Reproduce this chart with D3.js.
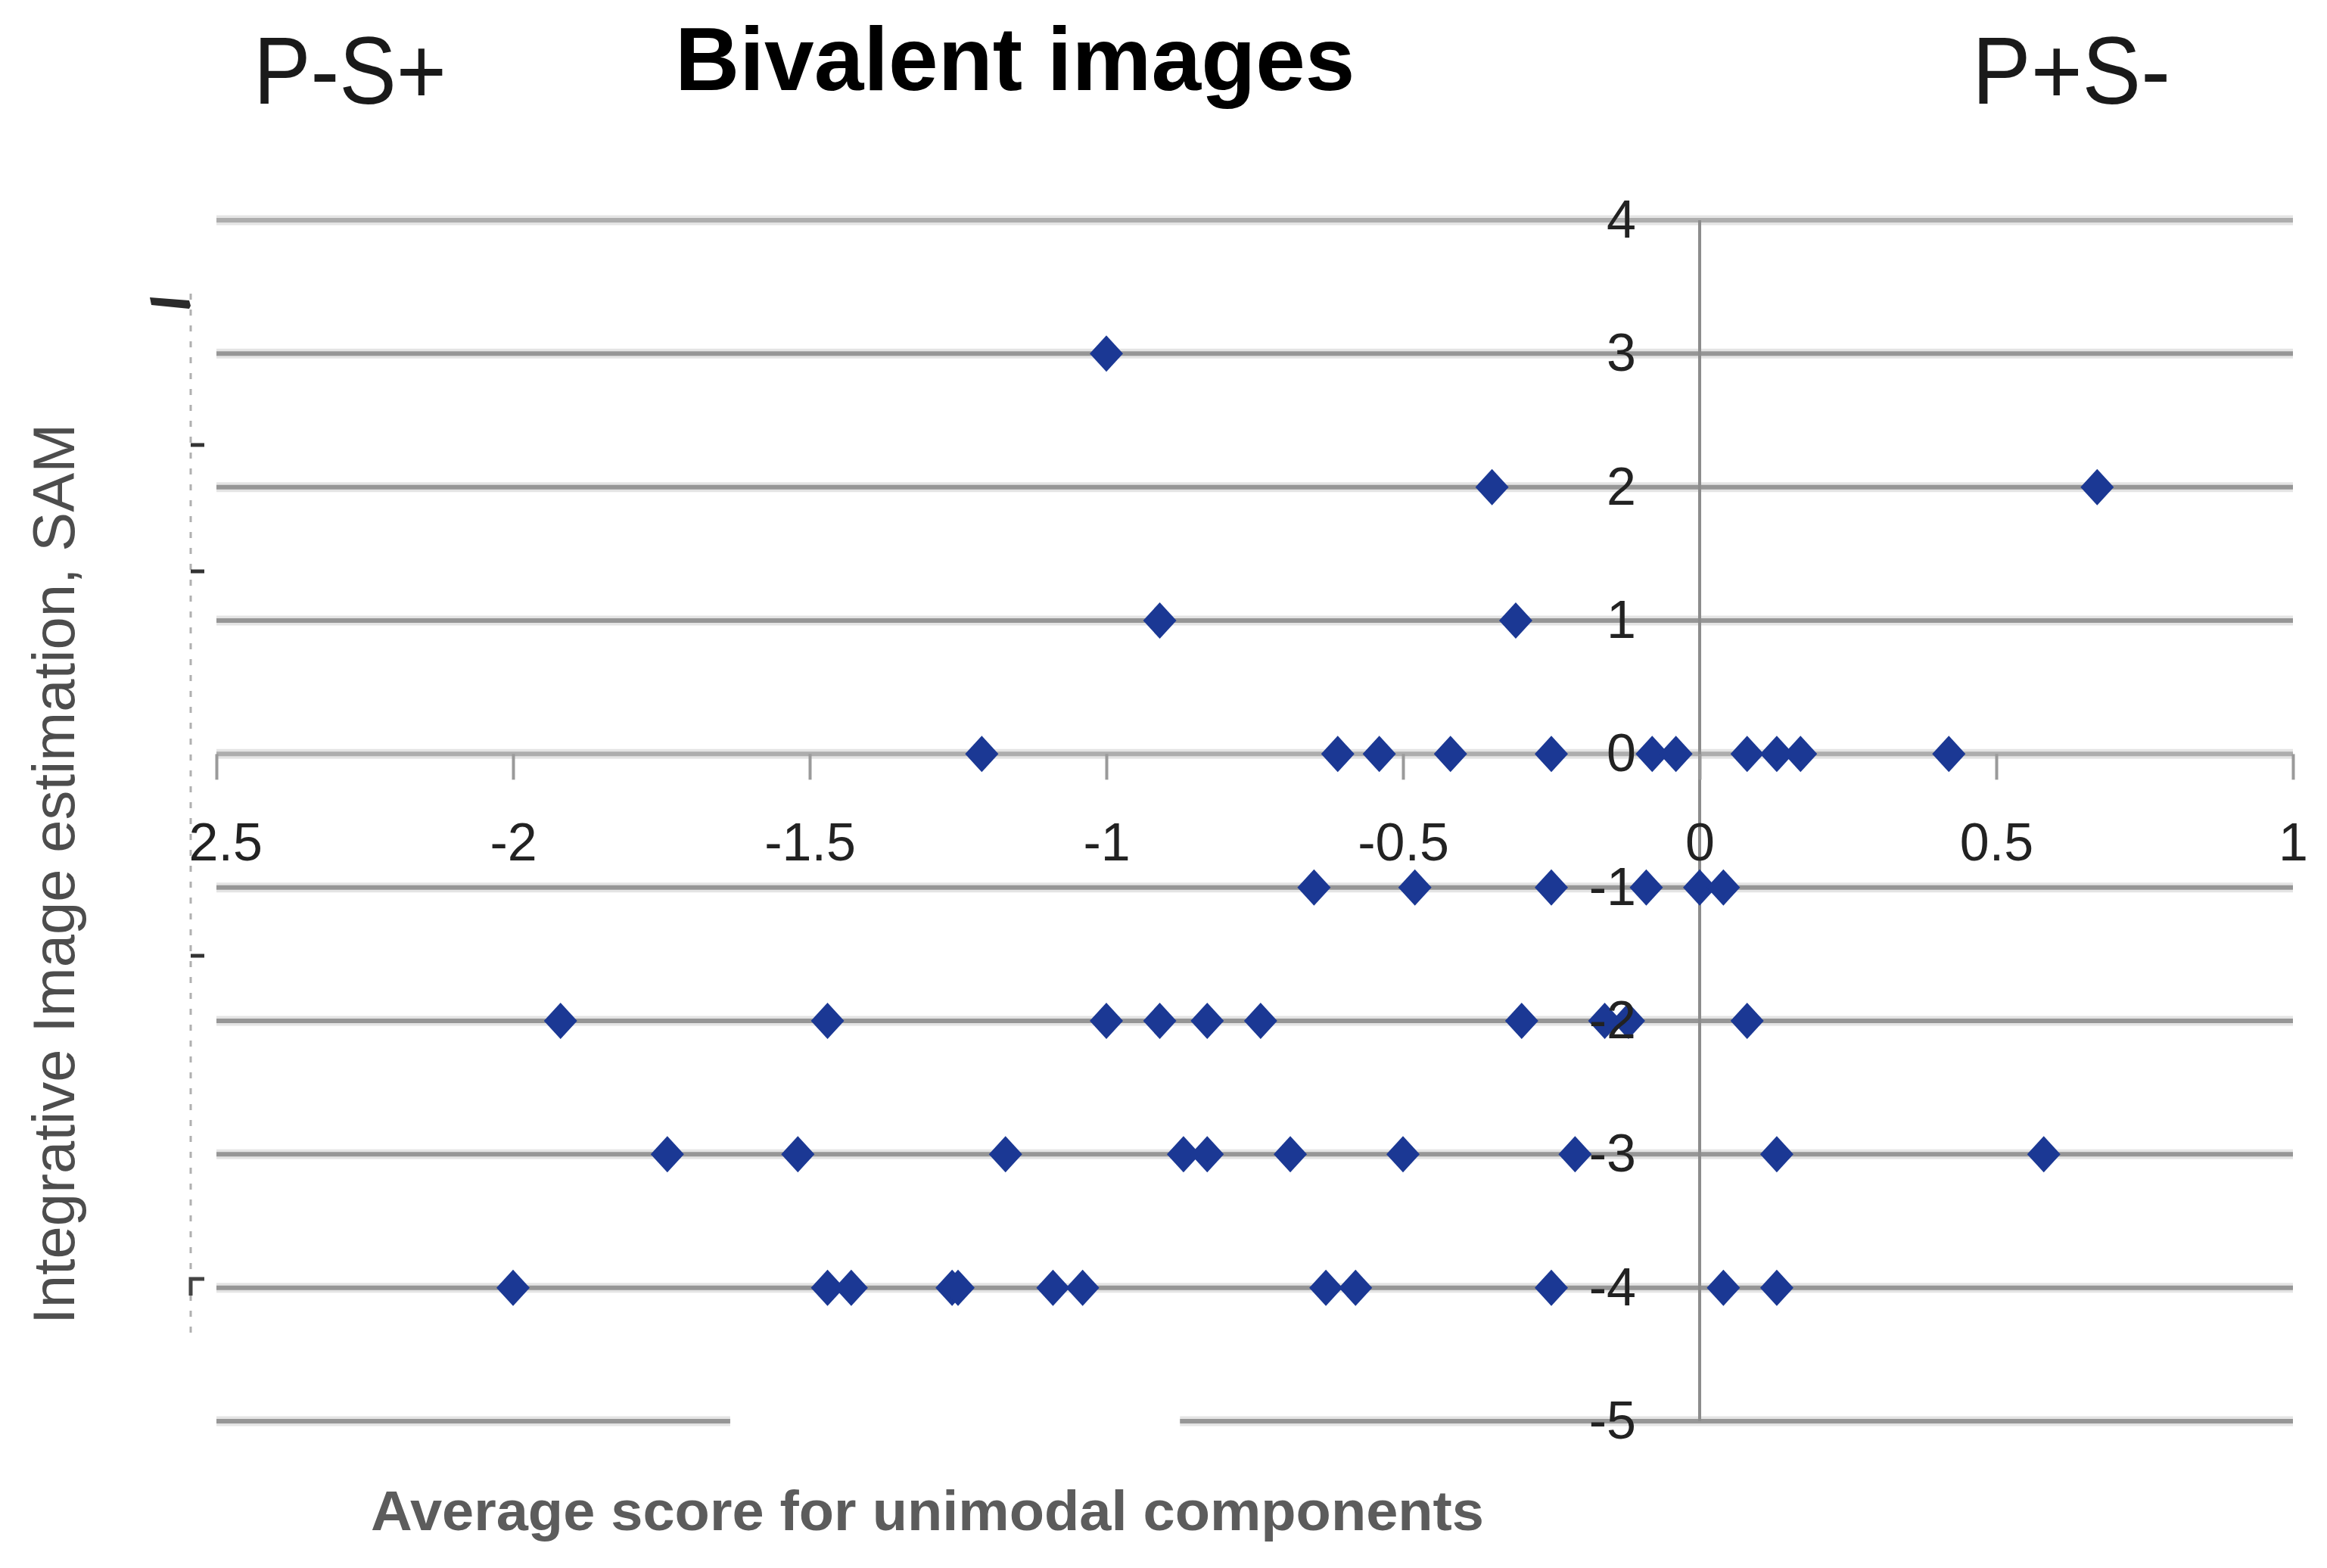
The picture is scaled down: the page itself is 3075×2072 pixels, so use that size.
<!DOCTYPE html>
<html>
<head>
<meta charset="utf-8">
<script src="https://cdn.jsdelivr.net/npm/d3@7"></script>
<style>
  html, body { margin: 0; padding: 0; background: #ffffff; }
  svg { display: block; }
</style>
</head>
<body>
<svg id="chart" width="3075" height="2072"></svg>
<script>
// ---------------- DATA ----------------
const chartTitle = "Bivalent images";
const leftCorner = "P-S+";
const rightCorner = "P+S-";
const xTitle = "Average score for unimodal components";
const yTitle = "Integrative Image estimation, SAM";

const xTicks = [-2.5, -2, -1.5, -1, -0.5, 0, 0.5, 1];
const yTicks = [4, 3, 2, 1, 0, -1, -2, -3, -4, -5];

// average score for unimodal components (x) per image
const avgScore = [
  -1.00,
  -0.35, 0.67,
  -0.91, -0.31,
  -1.21, -0.61, -0.54, -0.42, -0.25, -0.08, -0.04, 0.08, 0.13, 0.17, 0.42,
  -0.65, -0.48, -0.25, -0.09, 0.00, 0.04,
  -1.92, -1.47, -1.00, -0.91, -0.83, -0.74, -0.30, -0.16, -0.12, 0.08,
  -1.74, -1.52, -1.17, -0.87, -0.83, -0.69, -0.50, -0.21, 0.13, 0.58,
  -2.00, -1.47, -1.43, -1.26, -1.25, -1.09, -1.04, -0.63, -0.58, -0.25, 0.04, 0.13
];
// integrative image estimation, SAM (y) per image
const samScore = [
  3,
  2, 2,
  1, 1,
  0, 0, 0, 0, 0, 0, 0, 0, 0, 0, 0,
  -1, -1, -1, -1, -1, -1,
  -2, -2, -2, -2, -2, -2, -2, -2, -2, -2,
  -3, -3, -3, -3, -3, -3, -3, -3, -3, -3,
  -4, -4, -4, -4, -4, -4, -4, -4, -4, -4, -4, -4
];

// ---------------- LAYOUT ----------------
const svg = d3.select("#chart");
const W = 3075, H = 2072;
svg.append("rect").attr("width", W).attr("height", H).attr("fill", "#ffffff");

const x = d3.scaleLinear().domain([-2.5, 1]).range([286, 3030]);
const y = d3.scaleLinear().domain([-5, 4]).range([1878, 291]);

const font = "'Liberation Sans', Arial, Helvetica, sans-serif";
const hyph = d => String(d).replace("\u2212", "-");

// horizontal gridlines
const grid = svg.append("g");
yTicks.forEach(t => {
  grid.append("line")
    .attr("x1", x(-2.5)).attr("x2", x(1))
    .attr("y1", y(t)).attr("y2", y(t))
    .attr("stroke", "#e4e4e4").attr("stroke-width", 13);
  grid.append("line")
    .attr("x1", x(-2.5)).attr("x2", x(1))
    .attr("y1", y(t)).attr("y2", y(t))
    .attr("stroke", t === 4 || t === 0 ? "#adadad" : "#969696").attr("stroke-width", 6);
});
// gap in the bottom gridline (covered by the original axis title box)
svg.append("rect")
  .attr("x", x(-1.634)).attr("width", x(-0.876) - x(-1.634))
  .attr("y", y(-5) - 10).attr("height", 20)
  .attr("fill", "#ffffff");

// vertical zero line
svg.append("line")
  .attr("x1", x(0)).attr("x2", x(0))
  .attr("y1", y(4)).attr("y2", y(-5))
  .attr("stroke", "#8c8c8c").attr("stroke-width", 4);

// left dashed stray axis with marks
const la = svg.append("g");
la.append("line")
  .attr("x1", 252).attr("x2", 252).attr("y1", 388).attr("y2", 1772)
  .attr("stroke", "#b0b0b0").attr("stroke-width", 3)
  .attr("stroke-dasharray", "8,13");
la.append("path")
  .attr("d", "M198,393 L250,397 L252,404 L250,408 L200,403 Z")
  .attr("fill", "#2a2a2a");
[588, 755, 1263].forEach(v => {
  la.append("line").attr("x1", 252).attr("x2", 270).attr("y1", v).attr("y2", v)
    .attr("stroke", "#333").attr("stroke-width", 5);
});
la.append("path")
  .attr("d", "M270,1690 L252,1690 L252,1712")
  .attr("fill", "none").attr("stroke", "#444").attr("stroke-width", 5);

// diamond symbol
const diamond = {
  draw(ctx, size) {
    const hw = 22, hh = 24;
    ctx.moveTo(0, -hh);
    ctx.lineTo(hw, 0);
    ctx.lineTo(0, hh);
    ctx.lineTo(-hw, 0);
    ctx.closePath();
  }
};

// points
svg.append("g").selectAll("path")
  .data(avgScore.map((v, i) => [v, samScore[i]]))
  .join("path")
  .attr("transform", d => `translate(${x(d[0])},${y(d[1])})`)
  .attr("d", d3.symbol().type(diamond).size(1))
  .attr("fill", "#1b3894");

// x axis ticks and labels
svg.append("clipPath").attr("id", "xclip")
  .append("rect").attr("x", 250).attr("y", 0).attr("width", W).attr("height", H);
const xAxis = d3.axisBottom(x)
  .tickValues(xTicks)
  .tickSize(34)
  .tickPadding(57)
  .tickFormat(d => hyph(d3.format("")(d)));
const gx = svg.append("g")
  .attr("transform", `translate(0,${y(0)})`)
  .attr("clip-path", "url(#xclip)")
  .call(xAxis);
gx.select(".domain").remove();
gx.selectAll(".tick line").attr("stroke", "#9a9a9a").attr("stroke-width", 4);
gx.selectAll(".tick text")
  .attr("font-family", font).attr("font-size", 70).attr("fill", "#222");

// y axis labels at zero line
const yAxis = d3.axisLeft(y)
  .tickValues(yTicks)
  .tickSize(0)
  .tickPadding(84)
  .tickFormat(d => hyph(d3.format("")(d)));
const gy = svg.append("g")
  .attr("transform", `translate(${x(0)},0)`)
  .call(yAxis);
gy.select(".domain").remove();
gy.selectAll(".tick text")
  .attr("font-family", font).attr("font-size", 70).attr("fill", "#222");

// titles
svg.append("text")
  .attr("x", 892).attr("y", 119)
  .attr("font-family", font).attr("font-size", 118).attr("font-weight", "bold")
  .attr("fill", "#000").text(chartTitle);
svg.append("text")
  .attr("x", 335).attr("y", 137)
  .attr("font-family", font).attr("font-size", 126)
  .attr("textLength", 255).attr("lengthAdjust", "spacingAndGlyphs")
  .attr("fill", "#1a1a1a").text(leftCorner);
svg.append("text")
  .attr("x", 2606).attr("y", 137)
  .attr("font-family", font).attr("font-size", 126)
  .attr("textLength", 262).attr("lengthAdjust", "spacingAndGlyphs")
  .attr("fill", "#1a1a1a").text(rightCorner);

// axis titles
svg.append("text")
  .attr("x", 490).attr("y", 2022)
  .attr("font-family", font).attr("font-size", 74).attr("font-weight", "bold")
  .attr("textLength", 1471).attr("lengthAdjust", "spacingAndGlyphs")
  .attr("fill", "#5c5c5c").text(xTitle);
svg.append("text")
  .attr("transform", "translate(98,1155) rotate(-90)")
  .attr("text-anchor", "middle")
  .attr("font-family", font).attr("font-size", 77)
  .attr("textLength", 1190).attr("lengthAdjust", "spacingAndGlyphs")
  .attr("fill", "#4d4d4d").text(yTitle);
</script>
</body>
</html>
